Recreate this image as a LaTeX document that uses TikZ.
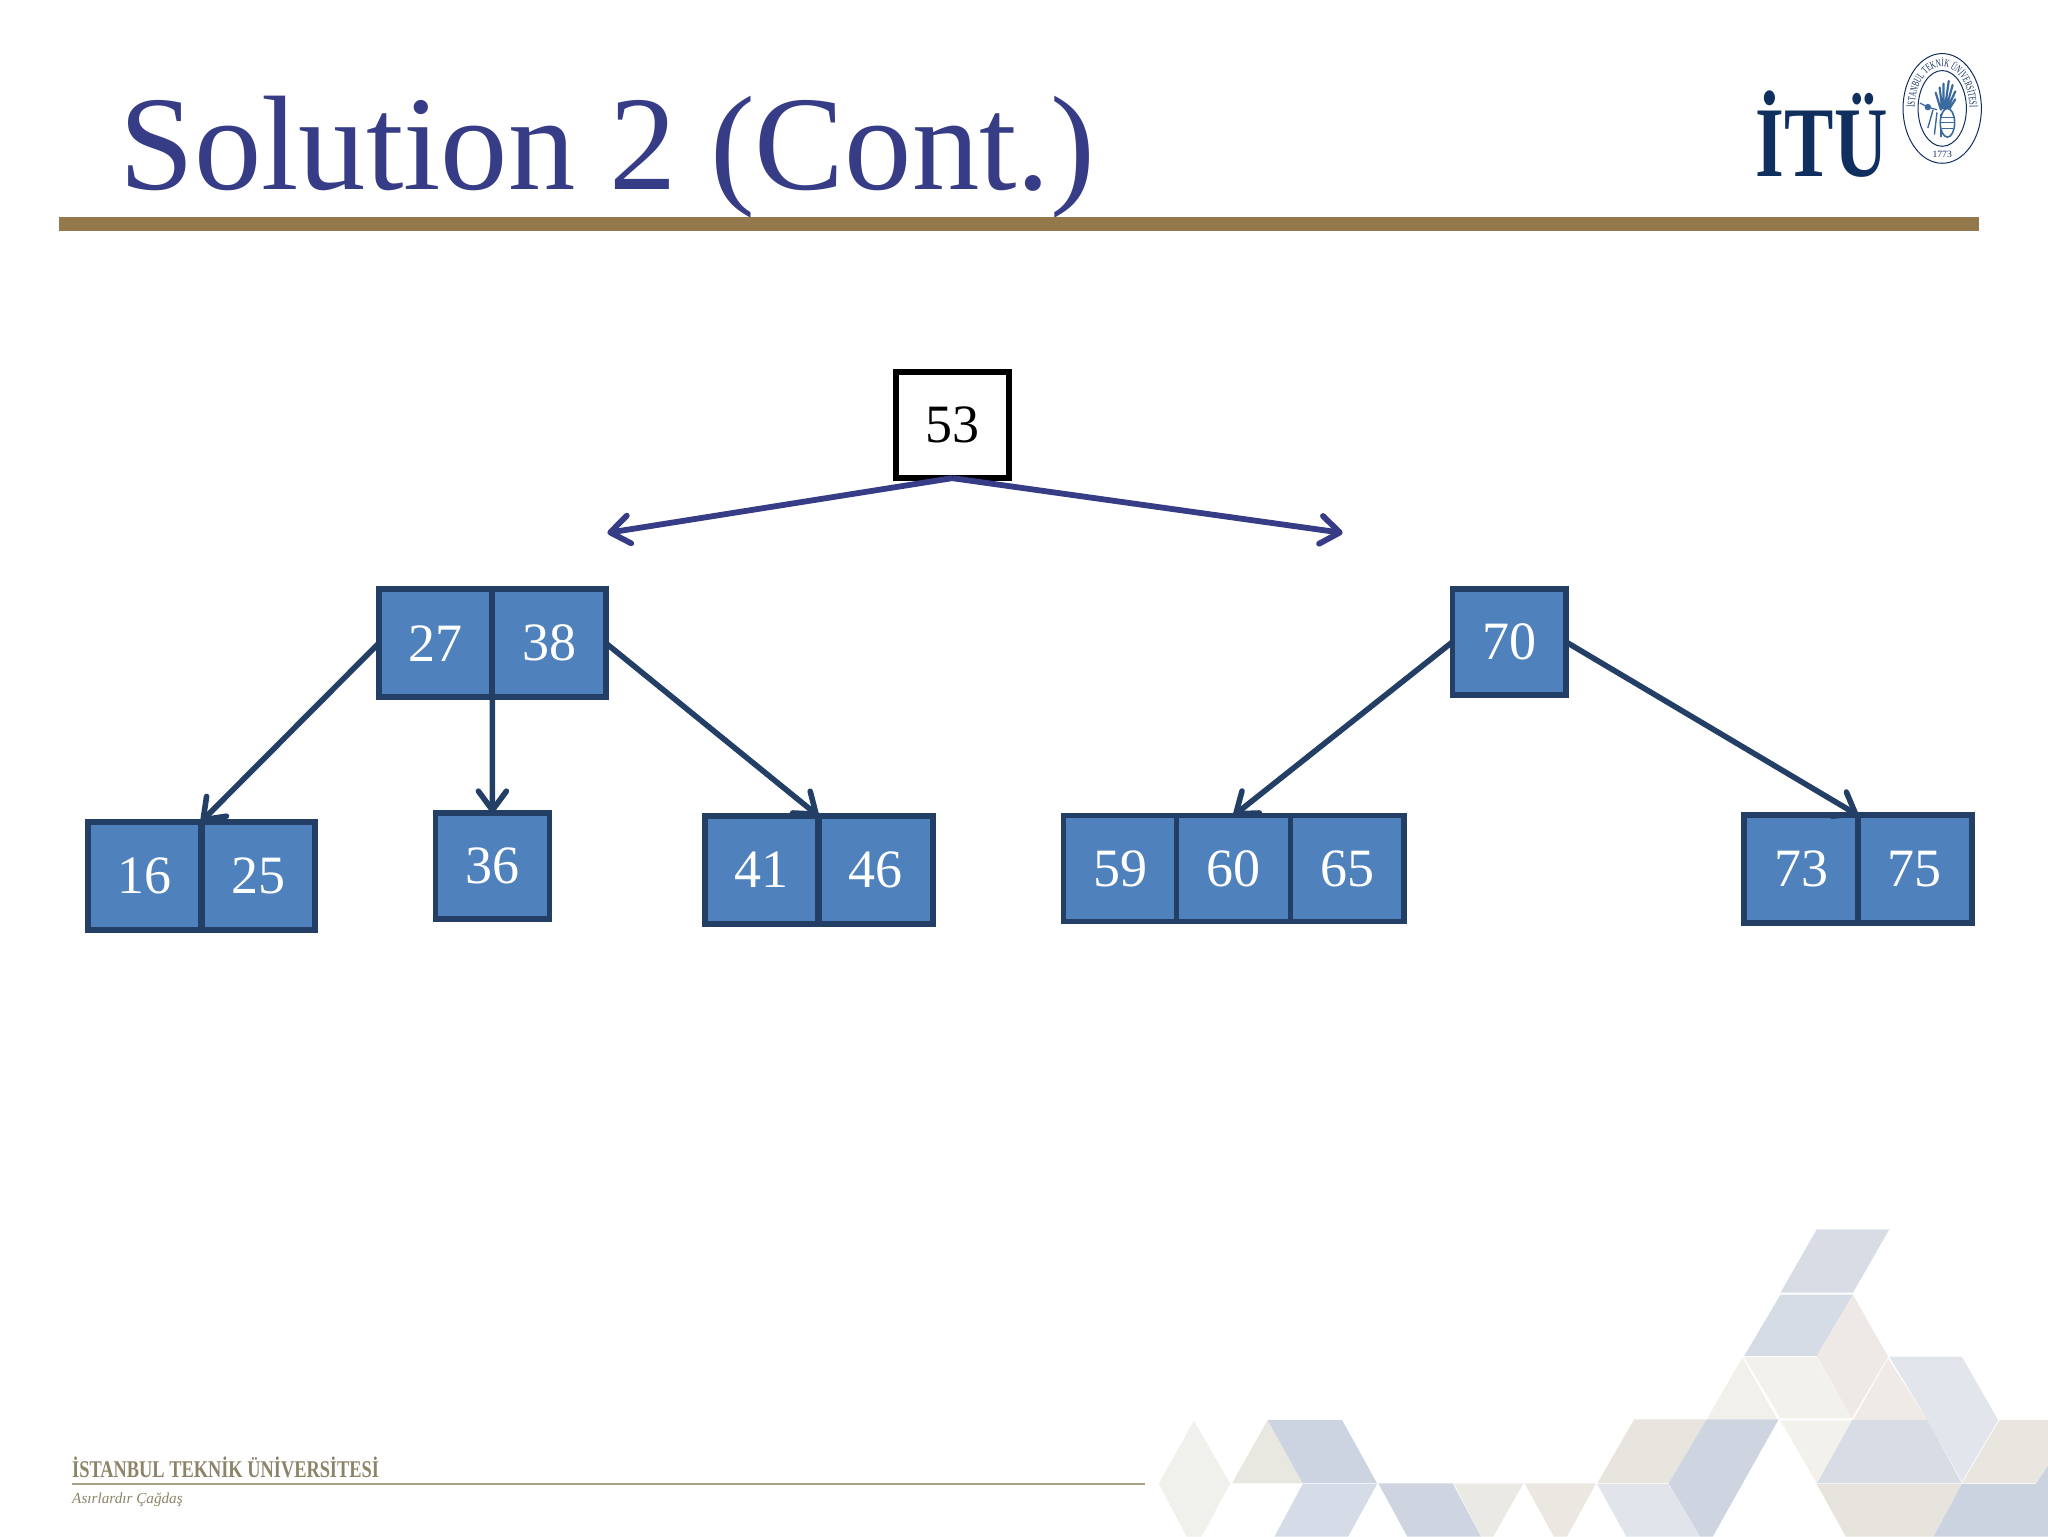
\documentclass[tikz,border=0pt]{standalone}
\usepackage{fontspec}
\setmainfont{Liberation Serif}
\newfontfamily\sealfont[FakeStretch=0.62]{Liberation Serif}
\usetikzlibrary{arrows.meta,decorations.text}
\definecolor{titleblue}{HTML}{363C85}
\definecolor{rulegold}{HTML}{93784B}
\definecolor{cellfill}{HTML}{4F81BD}
\definecolor{celldraw}{HTML}{243F66}
\definecolor{itunavy}{HTML}{0F2F5F}
\definecolor{footgold}{HTML}{8C8468}
\definecolor{footline}{HTML}{A8A285}
\definecolor{beeblue}{HTML}{3A6A9E}
\newcommand{\tilepoly}[2]{\definecolor{tilecol}{HTML}{#1}\fill[tilecol] #2 -- cycle;}
\tikzset{
  cellbox/.style={draw=celldraw,fill=cellfill,line width=3pt,minimum width=56.8pt,minimum height=54pt,
    inner sep=0pt,outer sep=0pt,text=white,font=\fontsize{27}{27}\selectfont},
  thinbox/.style={cellbox,line width=2.6pt,minimum height=53pt},
  rootbox/.style={draw=black,fill=white,line width=3pt,minimum width=56.5pt,minimum height=53pt,
    inner sep=0pt,outer sep=0pt,text=black,font=\fontsize{27}{27}\selectfont},
  rootarrow/.style={draw=titleblue,line width=2.9pt,-{Straight Barb[length=9.5pt,width=14pt,line width=2.9pt,round]}},
  cellarrow/.style={draw=celldraw,line width=2.8pt,-{Straight Barb[length=9.5pt,width=14pt,line width=2.8pt,round]}},
}
\begin{document}
\begin{tikzpicture}[x=0.65306pt,y=-0.65306pt]
\useasboundingbox (0,0) rectangle (1568,1176);
\clip (0,0) rectangle (1568,1176);
% background tiles
\begin{scope}[x=0.30235pt,y=-0.16669pt,shift={(550.07pt,-600pt)}]
\tilepoly{D8DCE5}{(1185,88) -- (1305,88) -- (1245,278) -- (1125,278)}
\tilepoly{D5DCE5}{(1125,284) -- (1245,284) -- (1185,468) -- (1065,468)}
\tilepoly{EEE9E6}{(1245,284) -- (1303,470) -- (1243,655) -- (1185,468)}
\tilepoly{F3F1EC}{(1065,472) -- (1185,472) -- (1243,655) -- (1125,655)}
\tilepoly{F1F0EA}{(1062,472) -- (1120,658) -- (1003,658)}
\tilepoly{F0EAE7}{(1303,475) -- (1368,660) -- (1245,660)}
\tilepoly{E2E5EC}{(1305,470) -- (1425,470) -- (1485,660) -- (1425,845) -- (1368,660)}
\tilepoly{D7DCE5}{(1243,660) -- (1368,660) -- (1425,850) -- (1185,850)}
\tilepoly{F3F1EC}{(1125,662) -- (1243,662) -- (1185,850)}
\tilepoly{E7E5DD}{(883,658) -- (1003,658) -- (940,850) -- (822,850)}
\tilepoly{CED5E0}{(1003,658) -- (1122,658) -- (1013,1010) -- (992,1010) -- (940,850)}
\tilepoly{E1E5EB}{(822,852) -- (940,852) -- (992,1010) -- (870,1010)}
\tilepoly{E8E6DF}{(1487,660) -- (1570,660) -- (1570,790) -- (1547,850) -- (1425,850)}
\tilepoly{E6E4DD}{(1185,852) -- (1425,852) -- (1378,1010) -- (1233,1010)}
\tilepoly{CBD3E0}{(1425,852) -- (1547,852) -- (1570,790) -- (1570,1010) -- (1378,1010)}
\tilepoly{F0F0EC}{(155,662) -- (215,850) -- (168,1010) -- (143,1010) -- (97,850)}
\tilepoly{E8E7E0}{(277,660) -- (335,850) -- (218,850)}
\tilepoly{CBD4E0}{(277,660) -- (400,660) -- (458,850) -- (335,850)}
\tilepoly{D5DCE7}{(335,852) -- (458,852) -- (410,1010) -- (288,1010)}
\tilepoly{CFD5E0}{(460,850) -- (583,850) -- (630,1010) -- (508,1010)}
\tilepoly{EBE9E4}{(585,850) -- (700,850) -- (650,1010) -- (630,1010)}
\tilepoly{EAE8E1}{(702,850) -- (820,850) -- (772,1010) -- (750,1010)}
\end{scope}
% title and rule
\node[anchor=base west,inner sep=0pt,text=titleblue,font=\fontsize{67.3}{70}\selectfont] (title) at (91,145) {Solution 2 (Cont.)};
\fill[rulegold] (45,166) rectangle (1515,177);
% logo
\node[anchor=base west,inner sep=0pt,text=itunavy,font=\bfseries\fontsize{50}{50}\selectfont] (itu) at (1344,135) {\scalebox{0.74}[1]{İTÜ}};
\coordinate (sealc) at (1487,83);
\draw[itunavy,line width=0.5pt] (sealc) ellipse [x radius=30,y radius=42];
\draw[itunavy,line width=0.5pt] (sealc) ellipse [x radius=18.5,y radius=29];
\path[decorate,decoration={text along path,text align=center,
  text={|\sealfont\fontsize{5.5}{6}\selectfont\color{itunavy}|İSTANBUL TEKNİK ÜNİVERSİTESİ}}]
  ([shift={(200:13.7pt and 21pt)}]sealc) arc[start angle=200,end angle=-20,x radius=13.7pt,y radius=21pt];
\node[inner sep=0pt,text=itunavy,font=\fontsize{4.8}{5}\selectfont] (year) at (1487,118) {1773};
\begin{scope}[beeblue]
\draw[line width=1.1pt,line cap=round] (1486,84) -- (1482,71) (1487,83) -- (1485,67) (1488,83) -- (1488,64) (1489,83) -- (1492,62) (1490,83) -- (1495,65) (1491,83) -- (1497,70) (1492,84) -- (1497,76);
\fill (1476,82) circle [radius=2.5];
\draw[line width=0.6pt] (1470,79) -- (1476,82) -- (1483,84);
\draw[line width=0.7pt] (1480,84) -- (1476,98);
\draw[line width=0.7pt] (1483,86) -- (1481,103);
\draw[line width=0.7pt] (1486,87) -- (1486,105);
\draw[line width=0.8pt,fill=white] (1491,94) ellipse [x radius=5.5,y radius=11];
\draw[line width=0.5pt] (1486,90) -- (1496,90) (1486,94) -- (1496,94) (1487,98) -- (1495,98);
\end{scope}
% footer
\node[anchor=base west,inner sep=0pt,text=footgold,font=\bfseries\fontsize{12}{12}\selectfont] (uni) at (55,1131) {\scalebox{0.765}[1]{İSTANBUL TEKNİK ÜNİVERSİTESİ}};
\fill[footline] (55,1135.2) rectangle (877,1137);
\node[anchor=base west,inner sep=0pt,text=footgold,font=\itshape\fontsize{7.6}{8}\selectfont] (motto) at (55,1151) {Asırlardır Çağdaş};
% tree nodes
\node[rootbox] (root) at (729,325.5) {53};
\node[cellbox] (c27) at (333.5,492.5) {27};
\node[cellbox] (c38) at (420.5,492.5) {38};
\node[thinbox] (c70) at (1155.5,491.5) {70};
\node[cellbox] (c16) at (110.5,670.5) {16};
\node[cellbox] (c25) at (198,670.5) {25};
\node[thinbox] (c36) at (377,663) {36};
\node[cellbox] (c41) at (583,666) {41};
\node[cellbox] (c46) at (670.5,666) {46};
\node[thinbox] (c59) at (857.5,665) {59};
\node[thinbox] (c60) at (944.5,665) {60};
\node[thinbox] (c65) at (1031.5,665) {65};
\node[cellbox] (c73) at (1379,665.5) {73};
\node[cellbox] (c75) at (1466,665.5) {75};
% connectors
\coordinate (leftfree) at (465,408);
\coordinate (rightfree) at (1028,408);
\draw[rootarrow] (root.south) -- (leftfree);
\draw[rootarrow] (root.south) -- (rightfree);
\draw[cellarrow] (c27.west) -- (c16.north east);
\draw[cellarrow] (c27.south east) -- (c36.north);
\draw[cellarrow] (c38.east) -- (c41.north east);
\draw[cellarrow] (c70.west) -- (c60.north);
\draw[cellarrow] (c70.east) -- (c73.north east);
\end{tikzpicture}
\end{document}
